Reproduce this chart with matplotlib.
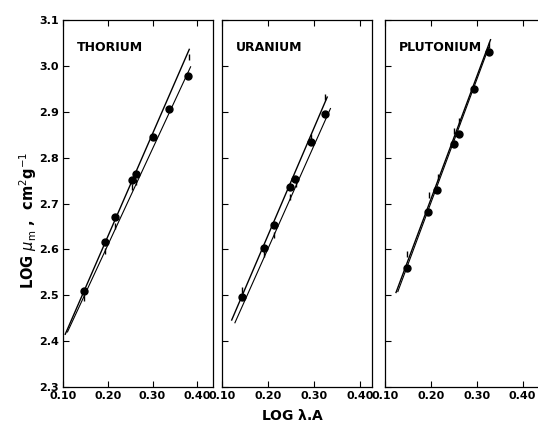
import matplotlib.pyplot as plt
import numpy as np

# Thorium
th_x = [0.146, 0.194, 0.217, 0.254, 0.262, 0.300, 0.336, 0.380]
th_y = [2.510, 2.615, 2.671, 2.751, 2.764, 2.846, 2.905, 2.978]
th_ex = [0.146, 0.194, 0.217, 0.254, 0.262, 0.382]
th_ey = [2.495, 2.596, 2.650, 2.737, 2.746, 3.020]
th_line1_x = [0.105, 0.382]
th_line1_y = [2.415, 3.036]
th_line2_x = [0.110, 0.385]
th_line2_y = [2.420, 2.998]

# Uranium
u_x = [0.143, 0.191, 0.212, 0.248, 0.258, 0.293, 0.324]
u_y = [2.497, 2.603, 2.653, 2.737, 2.753, 2.834, 2.896]
u_ex = [0.143, 0.191, 0.212, 0.248, 0.260, 0.293, 0.324]
u_ey = [2.512, 2.589, 2.632, 2.714, 2.742, 2.845, 2.932]
u_line1_x = [0.121, 0.328]
u_line1_y = [2.446, 2.932]
u_line2_x = [0.128, 0.335]
u_line2_y = [2.440, 2.907]

# Plutonium
pu_x = [0.149, 0.193, 0.213, 0.250, 0.261, 0.293, 0.326]
pu_y = [2.560, 2.682, 2.730, 2.830, 2.852, 2.950, 3.031]
pu_ex = [0.149, 0.195, 0.215, 0.250, 0.262, 0.326]
pu_ey = [2.589, 2.718, 2.757, 2.857, 2.879, 3.045]
pu_line1_x = [0.124, 0.330]
pu_line1_y = [2.506, 3.057]
pu_line2_x = [0.128, 0.326]
pu_line2_y = [2.508, 3.040]

xticks = [0.10, 0.20, 0.30, 0.40]
xticklabels = ['0.10', '0.20', '0.30', '0.40']
yticks = [2.3, 2.4, 2.5, 2.6, 2.7, 2.8, 2.9, 3.0, 3.1]
yticklabels = ['2.3', '2.4', '2.5', '2.6', '2.7', '2.8', '2.9', '3.0', '3.1']

fig = plt.figure(figsize=(5.38, 4.34), dpi=100)
W, H = 538.0, 434.0

panels = [
    ('THORIUM', 63, 150, 0.435, th_x, th_y, th_ex, th_ey,
     (th_line1_x, th_line1_y), (th_line2_x, th_line2_y)),
    ('URANIUM', 222, 150, 0.425, u_x, u_y, u_ex, u_ey,
     (u_line1_x, u_line1_y), (u_line2_x, u_line2_y)),
    ('PLUTONIUM', 385, 156, 0.44, pu_x, pu_y, pu_ex, pu_ey,
     (pu_line1_x, pu_line1_y), (pu_line2_x, pu_line2_y)),
]

top, bottom = 20, 387
for i, (name, left, width, xmax, px, py, ex, ey, l1, l2) in enumerate(panels):
    ax = fig.add_axes([left / W, 1 - bottom / H, width / W, (bottom - top) / H])
    ax.plot(l1[0], l1[1], color='black', lw=1.0)
    ax.plot(l2[0], l2[1], color='black', lw=0.8)
    ax.plot(ex, ey, ls='none', marker=r'$\mathrm{I}$', ms=5, color='black')
    ax.plot(px, py, ls='none', marker='o', ms=5, color='black')
    ax.set_xlim(0.10, xmax)
    ax.set_ylim(2.3, 3.1)
    ax.set_xticks(xticks)
    ax.set_xticklabels(xticklabels, fontsize=8, fontweight='bold')
    ax.set_yticks(yticks)
    if i == 0:
        ax.set_yticklabels(yticklabels, fontsize=8, fontweight='bold')
    else:
        ax.set_yticklabels([])
    ax.tick_params(direction='in', length=4, width=0.8, top=True, pad=3)
    for s in ax.spines.values():
        s.set_linewidth(0.9)
    ax.text(0.09, 0.925, name, transform=ax.transAxes, fontsize=9,
            fontweight='bold', va='center', ha='left')

fig.text(28 / W, 1 - 220 / H, r'LOG $\mu_\mathrm{m}$ ,  cm$^2$g$^{-1}$',
         rotation=90, fontsize=10.5, fontweight='bold', ha='center', va='center')
fig.text(293 / W, 1 - 415 / H, r'LOG $\mathbf{\lambda}$.A', fontsize=10,
         fontweight='bold', ha='center', va='center')

fig.savefig('out.png', dpi=100)
